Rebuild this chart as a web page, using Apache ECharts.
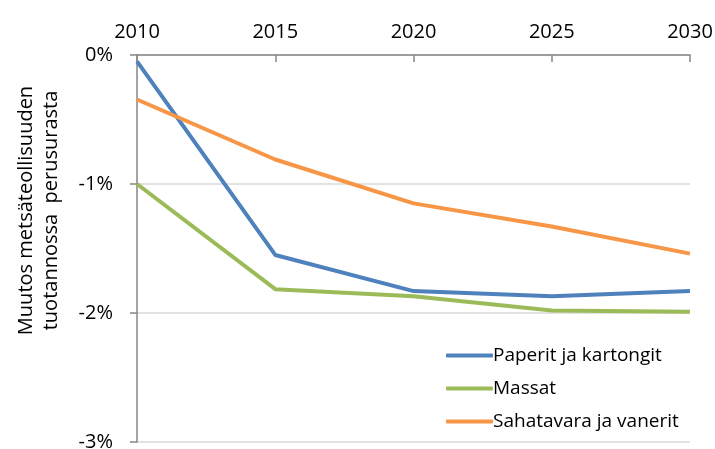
<!DOCTYPE html>
<html>
<head>
<meta charset="utf-8">
<script src="https://cdn.jsdelivr.net/npm/echarts@6/dist/echarts.min.js"></script>
<style>
  html, body { margin: 0; padding: 0; background: #fff; }
  #chart { width: 715px; height: 449px; }
</style>
</head>
<body>
<div id="chart"></div>
<script>
// vuodet ja tuotannon muutos (%) perusurasta
var years = ['2010', '2015', '2020', '2025', '2030'];
var paperit = [-0.05, -1.55, -1.83, -1.87, -1.83];
var massat = [-1.0, -1.815, -1.87, -1.98, -1.99];
var sahatavara = [-0.345, -0.81, -1.15, -1.33, -1.54];

var axisColor = '#868686';
var font = '"Open Sans", "Liberation Sans", sans-serif';

var chart = echarts.init(document.getElementById('chart'));
var opt = {
  animation: false,
  color: ['#4f81bd', '#9bbb59', '#f79646'],
  textStyle: { fontFamily: font },
  grid: { left: 137, right: 25, top: 55, bottom: 7, outerBoundsMode: 'none' },
  legend: {
    orient: 'vertical',
    left: 441,
    top: 341,
    itemWidth: 47,
    itemHeight: 4,
    itemGap: 14,
    icon: 'roundRect',
    textStyle: { color: '#000', fontSize: 19, fontFamily: font, padding: [0, 0, 0, -5] },
    data: ['Paperit ja kartongit', 'Massat', 'Sahatavara ja vanerit']
  },
  xAxis: {
    type: 'category',
    position: 'top',
    boundaryGap: false,
    data: years,
    axisLine: { lineStyle: { color: axisColor, width: 1.5 } },
    axisTick: { inside: true, length: 7, lineStyle: { color: axisColor, width: 1.5 } },
    axisLabel: { color: '#000', fontSize: 20, margin: 13 },
    splitLine: { show: false }
  },
  yAxis: {
    type: 'value',
    min: -3,
    max: 0,
    interval: 1,
    name: 'Muutos metsäteollisuuden\ntuotannossa  perusurasta',
    nameLocation: 'middle',
    nameGap: 73,
    nameTextStyle: { color: '#000', fontSize: 20, lineHeight: 25, padding: [0, 0, 0, 76] },
    axisLine: { show: true, lineStyle: { color: axisColor, width: 1.5 } },
    axisTick: { show: true, length: 7, lineStyle: { color: axisColor, width: 1.5 } },
    axisLabel: { color: '#000', fontSize: 20, margin: 24, formatter: function (v) { return v + '%'; } },
    splitLine: { lineStyle: { color: '#d9d9d9', width: 1.5 } }
  },
  series: [
    { name: 'Paperit ja kartongit', type: 'line', data: paperit, showSymbol: false, lineStyle: { width: 4 } },
    { name: 'Massat', type: 'line', data: massat, showSymbol: false, lineStyle: { width: 4 } },
    { name: 'Sahatavara ja vanerit', type: 'line', data: sahatavara, showSymbol: false, lineStyle: { width: 4 } }
  ]
};
chart.setOption(opt);
</script>
</body>
</html>
